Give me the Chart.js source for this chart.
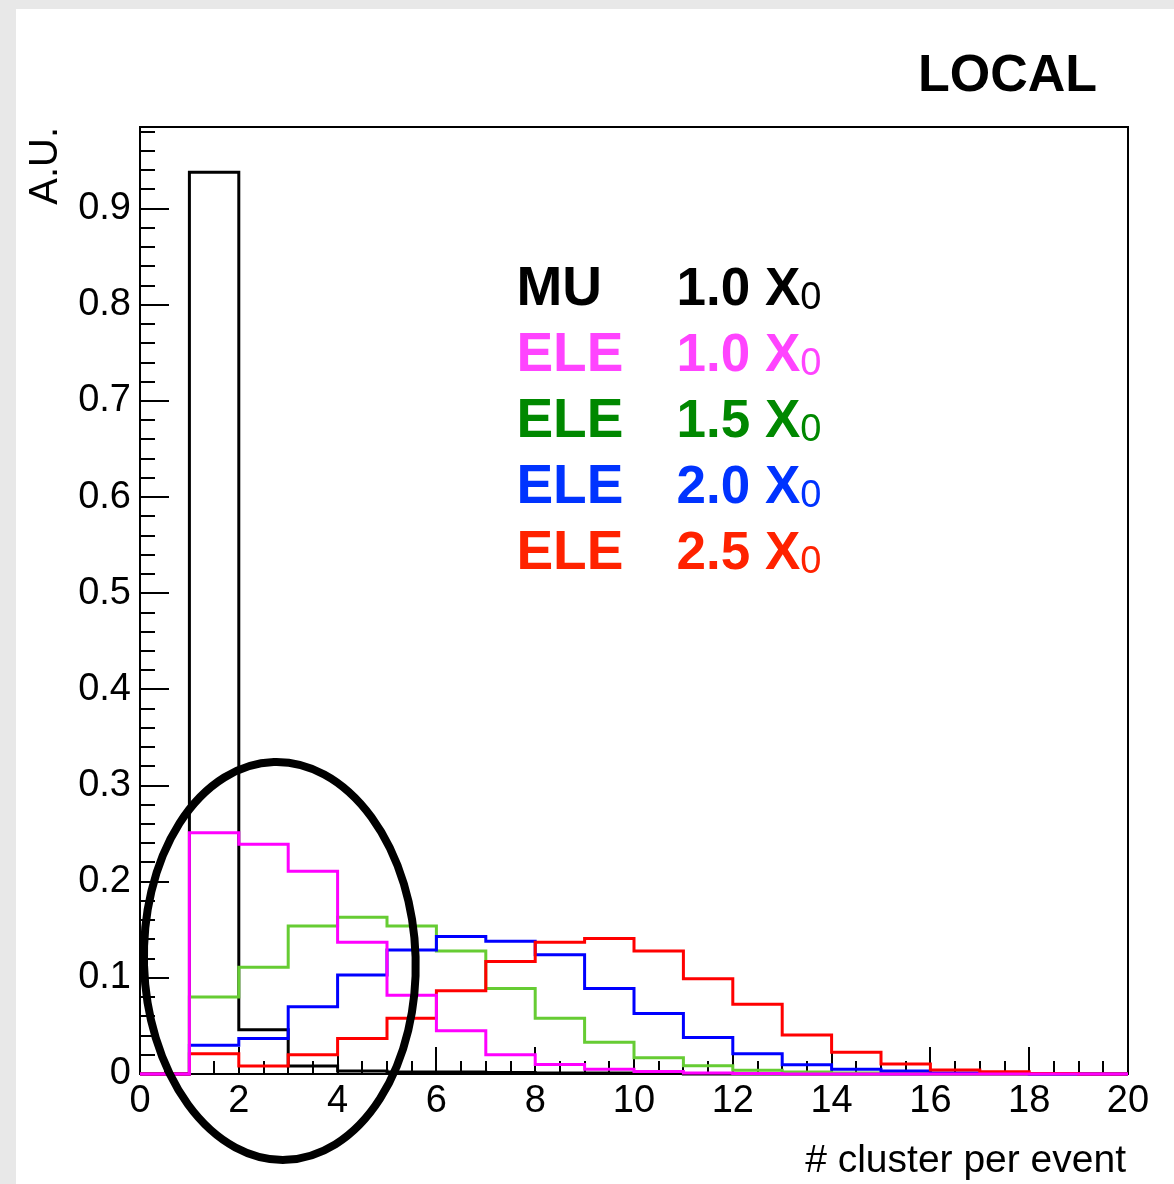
<!DOCTYPE html>
<html>
<head>
<meta charset="utf-8">
<script src="https://cdn.jsdelivr.net/npm/chart.js@4.4.0/dist/chart.umd.min.js"></script>
<style>
html,body{margin:0;padding:0;background:#e8e8e8;width:1174px;height:1184px;overflow:hidden}
#wrap{position:absolute;left:16px;top:9px;width:1158px;height:1175px;background:#fff}
canvas{display:block}
</style>
</head>
<body>
<div id="wrap"><canvas id="c" width="1158" height="1175"></canvas></div>
<script>
// ---- data ----
const binEdges = [0,1,2,3,4,5,6,7,8,9,10,11,12,13,14,15,16,17,18,19,20];
const muX10  = [0, 0.938, 0.046, 0.0083, 0.003, 0.002, 0.002, 0.0015, 0.001, 0.001, 0.0005, 0, 0, 0, 0, 0, 0, 0, 0, 0];
const eleX10 = [0, 0.251, 0.239, 0.211, 0.137, 0.082, 0.045, 0.020, 0.010, 0.005, 0.0025, 0.001, 0.0005, 0, 0, 0, 0, 0, 0, 0];
const eleX15 = [0, 0.080, 0.111, 0.154, 0.163, 0.154, 0.128, 0.089, 0.058, 0.033, 0.017, 0.0085, 0.004, 0.002, 0.001, 0.0005, 0, 0, 0, 0];
const eleX20 = [0, 0.030, 0.037, 0.070, 0.103, 0.129, 0.143, 0.138, 0.124, 0.089, 0.063, 0.038, 0.021, 0.0095, 0.005, 0.003, 0.001, 0.0005, 0, 0];
const eleX25 = [0, 0.021, 0.0083, 0.020, 0.037, 0.058, 0.0865, 0.117, 0.137, 0.141, 0.128, 0.099, 0.0725, 0.0406, 0.0226, 0.0104, 0.0042, 0.0024, 0.0005, 0];
const xTickValues = [0,2,4,6,8,10,12,14,16,18,20];
const xTickLabels = ['0','2','4','6','8','10','12','14','16','18','20'];
const yTickValues = [0,0.1,0.2,0.3,0.4,0.5,0.6,0.7,0.8,0.9];
const yTickLabels = ['0','0.1','0.2','0.3','0.4','0.5','0.6','0.7','0.8','0.9'];
const legendParticle = ['MU','ELE','ELE','ELE','ELE'];
const legendThickness = ['1.0','1.0','1.5','2.0','2.5'];
const legendColors = ['#000000','#ff44ff','#008800','#0033ff','#ff2200'];
const lineColors = ['#000000','#ff00ff','#66cc33','#0000ff','#ff0000'];
const chartTitle = 'LOCAL';
const xTitle = '# cluster per event';
const yTitle = 'A.U.';

function toSteps(values){
  const pts = values.map((v,i)=>({x:binEdges[i], y:v}));
  pts.push({x:binEdges[values.length], y:values[values.length-1]});
  return pts;
}

const FONT = "'Liberation Sans', Arial, Helvetica, sans-serif";
Chart.defaults.font.family = FONT;

const series = [muX10, eleX10, eleX15, eleX20, eleX25];
const orders = [5, 1, 4, 3, 2];
const datasets = series.map((s,i)=>({
  label: legendParticle[i] + ' ' + legendThickness[i],
  data: toSteps(s),
  stepped: true,
  borderColor: lineColors[i],
  borderWidth: 3,
  pointRadius: 0,
  fill: false,
  clip: false,
  order: orders[i],
  borderJoinStyle: 'miter',
  borderCapStyle: 'butt'
}));

const framePlugin = {
  id: 'frameTicks',
  beforeDatasetsDraw(chart){
    const {ctx, chartArea:a, scales:{x,y}} = chart;
    ctx.save();
    ctx.strokeStyle = '#000';
    ctx.lineWidth = 2;
    for (let k=0;k<=60;k++){
      const v = k*0.02;
      if (v > y.max + 1e-9) break;
      const py = Math.round(y.getPixelForValue(v));
      const major = k%5===0;
      ctx.beginPath(); ctx.moveTo(a.left, py); ctx.lineTo(a.left + (major?29:15), py); ctx.stroke();
    }
    for (let k=0;k<=40;k++){
      const v = k*0.5;
      const px = Math.round(x.getPixelForValue(v));
      const major = k%4===0;
      ctx.beginPath(); ctx.moveTo(px, a.bottom); ctx.lineTo(px, a.bottom - (major?27:13)); ctx.stroke();
    }
    ctx.strokeRect(a.left, a.top, a.right-a.left, a.bottom-a.top);
    ctx.restore();
  },
  afterDraw(chart){
    const {ctx, chartArea:a, scales:{x,y}} = chart;
    ctx.save();
    // title
    ctx.fillStyle = '#000';
    ctx.font = "bold 52px " + FONT;
    ctx.textAlign = 'right'; ctx.textBaseline = 'alphabetic';
    ctx.fillText(chartTitle, a.right - 31, a.top - 36);
    // x title
    ctx.font = "39px " + FONT;
    ctx.fillText(xTitle, a.right - 2, a.bottom + 98);
    // y title
    ctx.save();
    ctx.translate(a.left - 83, a.top);
    ctx.rotate(-Math.PI/2);
    ctx.font = "40px " + FONT;
    ctx.textAlign = 'right';
    ctx.fillText(yTitle, 0, 0);
    ctx.restore();
    // legend
    const lx1 = x.getPixelForValue(7.62), lx2 = x.getPixelForValue(10.86);
    for (let i=0;i<legendParticle.length;i++){
      const by = y.getPixelForValue(0.800 - i*0.0688);
      ctx.fillStyle = legendColors[i];
      ctx.textAlign = 'left';
      ctx.font = "bold 55px " + FONT;
      ctx.fillText(legendParticle[i], lx1, by);
      ctx.font = "bold 53px " + FONT;
      const t = legendThickness[i] + ' X';
      ctx.fillText(t, lx2, by);
      const w = ctx.measureText(t).width;
      ctx.font = "38px " + FONT;
      ctx.fillText('0', lx2 + w, by + 4);
    }
    // hand-drawn ellipse annotation
    const cx = x.getPixelForValue(2.83), cy = y.getPixelForValue(0.1176);
    const rx = x.getPixelForValue(2.83 + 2.75) - cx;
    const ry = cy - y.getPixelForValue(0.1176 + 0.207);
    ctx.strokeStyle = '#000';
    ctx.lineWidth = 8;
    ctx.beginPath();
    ctx.ellipse(cx, cy, rx, ry, -0.03, 0, Math.PI*2);
    ctx.stroke();
    ctx.restore();
  }
};

new Chart(document.getElementById('c'), {
  type: 'line',
  data: { datasets },
  options: {
    responsive: false,
    animation: false,
    devicePixelRatio: 1,
    layout: { padding: { top: 118, right: 46, left: 0, bottom: 0 } },
    plugins: { legend: { display: false }, tooltip: { enabled: false }, title: { display: false } },
    scales: {
      x: {
        type: 'linear', min: 0, max: 20,
        grid: { display: false, drawTicks: false },
        border: { display: false },
        afterBuildTicks: s => { s.ticks = xTickValues.map(v=>({value:v})); },
        afterFit: s => { s.height = 110; },
        ticks: { color: '#000', font: { size: 38 }, padding: 5, autoSkip: false, maxRotation: 0,
                 callback: (v, i) => xTickLabels[i] }
      },
      y: {
        type: 'linear', min: 0, max: 0.985,
        grid: { display: false, drawTicks: false },
        border: { display: false },
        afterBuildTicks: s => { s.ticks = yTickValues.map(v=>({value:v})); },
        afterFit: s => { s.width = 124; },
        ticks: { color: '#000', font: { size: 38 }, padding: 9, autoSkip: false,
                 callback: (v, i) => yTickLabels[i] }
      }
    }
  },
  plugins: [framePlugin]
});
</script>
</body>
</html>
